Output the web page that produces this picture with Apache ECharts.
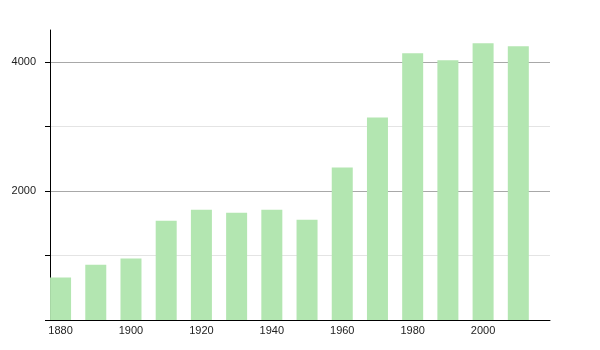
<!DOCTYPE html>
<html>
<head>
<meta charset="utf-8">
<script src="https://cdn.jsdelivr.net/npm/echarts@6/dist/echarts.min.js"></script>
<style>html,body{margin:0;padding:0;background:#fff}#c{width:600px;height:350px}</style>
</head>
<body>
<div id="c"></div>
<script>
var years = [1880, 1890, 1900, 1910, 1920, 1930, 1940, 1950, 1960, 1970, 1980, 1990, 2000, 2010];
var population = [658, 856, 954, 1541, 1712, 1665, 1712, 1556, 2366, 3144, 4140, 4031, 4296, 4249];
var xTickLabels = [1880, 1900, 1920, 1940, 1960, 1980, 2000];
var yTickLabels = [2000, 4000];
var yTicks = [0, 1000, 2000, 3000, 4000];

var chart = echarts.init(document.getElementById('c'));
chart.setOption({
  animation: false,
  grid: {left: 50, right: 50, top: 30, bottom: 30},
  xAxis: {
    type: 'value', min: 1877, max: 2019,
    axisLine: {show: true, lineStyle: {color: '#000', width: 1}},
    axisTick: {show: false},
    splitLine: {show: false},
    axisLabel: {customValues: xTickLabels, formatter: function (v) { return String(v); }, color: '#222', fontSize: 11, fontFamily: 'Liberation Sans', margin: 5}
  },
  yAxis: {
    type: 'value', min: 0, max: 4500,
    axisLine: {show: true, lineStyle: {color: '#000', width: 1}},
    axisTick: {show: true, customValues: yTicks, length: 5, lineStyle: {color: '#000'}},
    axisLabel: {customValues: yTickLabels, formatter: function (v) { return String(v); }, color: '#222', fontSize: 11, fontFamily: 'Liberation Sans', margin: 14},
    splitLine: {show: true, lineStyle: {color: ['#e4e4e4', '#e4e4e4', '#a8a8a8', '#e4e4e4', '#a8a8a8']}}
  },
  series: [{
    type: 'bar',
    barWidth: 21,
    itemStyle: {color: '#b3e6b1'},
    data: years.map(function (y, i) { return [y, population[i]]; })
  }]
});
</script>
</body>
</html>
